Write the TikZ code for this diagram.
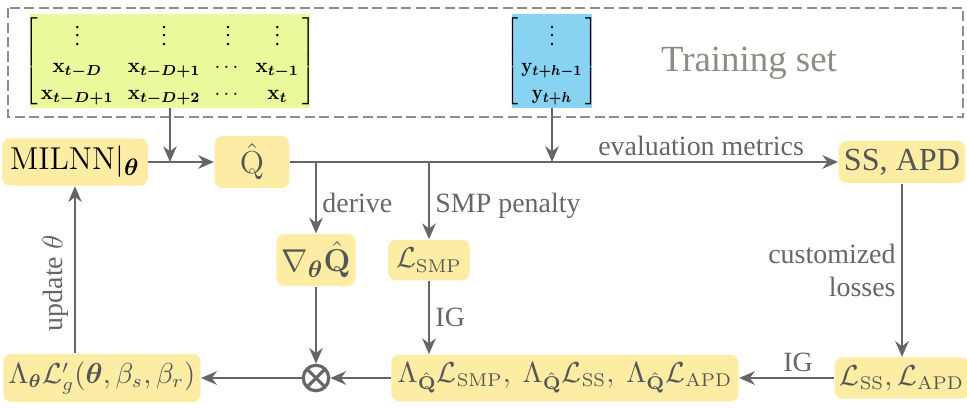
\documentclass[tikz,border=0pt]{standalone}
\usepackage{amsmath,amssymb,graphicx}
\usepackage[no-math]{fontspec}
\setmainfont{Liberation Serif}
\usepackage{tikz,pgf}
\usetikzlibrary{arrows.meta}

\definecolor{boxfill}{RGB}{253,236,164}
\definecolor{boxtext}{RGB}{85,85,85}
\definecolor{linegray}{RGB}{102,102,102}
\definecolor{framegray}{RGB}{143,140,132}
\definecolor{xfill}{RGB}{233,250,156}
\definecolor{yfill}{RGB}{135,211,241}

% bold vector with bold subscript
\newcommand{\bv}[2]{\boldsymbol{\mathbf{#1}_{#2}}}

\begin{document}
\begin{tikzpicture}[
  x=0.01333cm, y=-0.01333cm,
  >={Stealth[length=2.1mm,width=1.8mm]},
  every node/.style={inner sep=3pt, font=\fontsize{10.6}{12.7}\selectfont}
]
\tikzstyle{blok}=[rectangle, rounded corners=3pt, fill=boxfill, text=boxtext, minimum height=0.54cm]
\tikzstyle{stor}=[font=\fontsize{12.2}{14}\selectfont]
\tikzstyle{matrice}=[inner sep=0pt, font=\fontsize{10}{12}\selectfont]
\tikzstyle{pil}=[draw=linegray, line width=0.9pt, ->]
\tikzstyle{etiket}=[text=linegray, inner sep=2pt]
\tikzstyle{kryds}=[circle, draw=linegray, line width=1.2pt, minimum size=0.34cm, inner sep=0pt,
  path picture={\draw[linegray, line width=1.2pt]
    (path picture bounding box.north west) -- (path picture bounding box.south east)
    (path picture bounding box.north east) -- (path picture bounding box.south west);}]

\useasboundingbox (0,0) rectangle (967,407);

% training data
\draw[framegray, line width=1pt, dash pattern=on 3.8pt off 1.7pt] (8,8) rectangle (963,117);
\node[matrice, fill=xfill] (xmat) at (170,61)
  {\resizebox*{3.73cm}{1.25cm}{\arraycolsep=3.5pt\def\arraystretch{1.1}%
  $\kern-3pt\left[\begin{array}{@{\,}cccc@{\,}}
    \vdots & \vdots & \vdots & \vdots\\
    \bv{x}{t-D} & \bv{x}{t-D+1} & \cdots & \bv{x}{t-1}\\
    \bv{x}{t-D+1} & \bv{x}{t-D+2} & \cdots & \bv{x}{t}
  \end{array}\right]\kern-3pt$}};
\node[matrice, fill=yfill] (ymat) at (552,61)
  {\resizebox*{1.07cm}{1.25cm}{\def\arraystretch{1.1}%
  $\kern-3pt\left[\begin{array}{@{\,}c@{\,}}
    \vdots\\
    \bv{y}{t+h-1}\\
    \bv{y}{t+h}
  \end{array}\right]\kern-3pt$}};
\node[text=framegray, font=\fontsize{14}{16}\selectfont] (train) at (749,63) {Training set};

% blocks
\node[blok, stor, text=black, minimum width=1.8cm] (milnn) at (75,162) {$\mathrm{MILNN}|_{\boldsymbol{\theta}}$};
\node[blok, stor, minimum width=1cm] (qhat) at (252,162) {$\hat{\mathrm{Q}}$};
\node[blok, stor, minimum width=1.65cm, inner xsep=2pt] (ss) at (902,162) {SS, APD};
\node[blok, stor, minimum width=0.98cm, inner xsep=2pt] (grad) at (316,260) {$\nabla_{\boldsymbol{\theta}}\hat{\mathbf{Q}}$};
\node[blok, minimum width=1cm] (smp) at (429,260) {$\mathcal{L}_{\mathrm{SMP}}$};
\node[blok, minimum width=1.68cm, inner xsep=2pt] (lss) at (902,378) {$\mathcal{L}_{\mathrm{SS}},\mathcal{L}_{\mathrm{APD}}$};
\node[blok, minimum width=4.63cm, inner xsep=2pt] (lam) at (565,378)
  {$\Lambda_{\hat{\mathbf{Q}}}\mathcal{L}_{\mathrm{SMP}},\ \Lambda_{\hat{\mathbf{Q}}}\mathcal{L}_{\mathrm{SS}},\ \Lambda_{\hat{\mathbf{Q}}}\mathcal{L}_{\mathrm{APD}}$};
\node[kryds] (prod) at (316,378) {};
\node[blok, minimum width=2.52cm, inner xsep=2pt] (lth) at (102,378)
  {$\Lambda_{\boldsymbol{\theta}}\mathcal{L}'_g(\boldsymbol{\theta},\beta_s,\beta_r)$};

% arrows
\draw[pil] (milnn) -- (qhat);
\draw[pil] (xmat) -- (xmat |- qhat);
\draw[pil] (ymat) -- (ymat |- qhat);
\draw[pil] (qhat) -- node[etiket, above, pos=0.75] {evaluation metrics} (ss);
\draw[pil] (qhat -| grad) -- node[etiket, right, pos=0.57] {derive} (grad);
\draw[pil] (qhat -| smp) -- node[etiket, right, pos=0.57] {SMP penalty} (smp);
\draw[pil] (ss) -- node[etiket, left, align=right] {customized\\losses} (lss);
\draw[pil] (smp) -- node[etiket, right] {IG} (lam.north -| smp);
\draw[pil] (lss) -- node[etiket, above, pos=0.38] {IG} (lam);
\draw[pil] (grad) -- (prod);
\draw[pil] (lam) -- (prod);
\draw[pil] (prod) -- (lth);
\draw[pil] (lth.north -| milnn) -- node[etiket, above, sloped, pos=0.42] {update $\theta$} (milnn);
\end{tikzpicture}
\end{document}
